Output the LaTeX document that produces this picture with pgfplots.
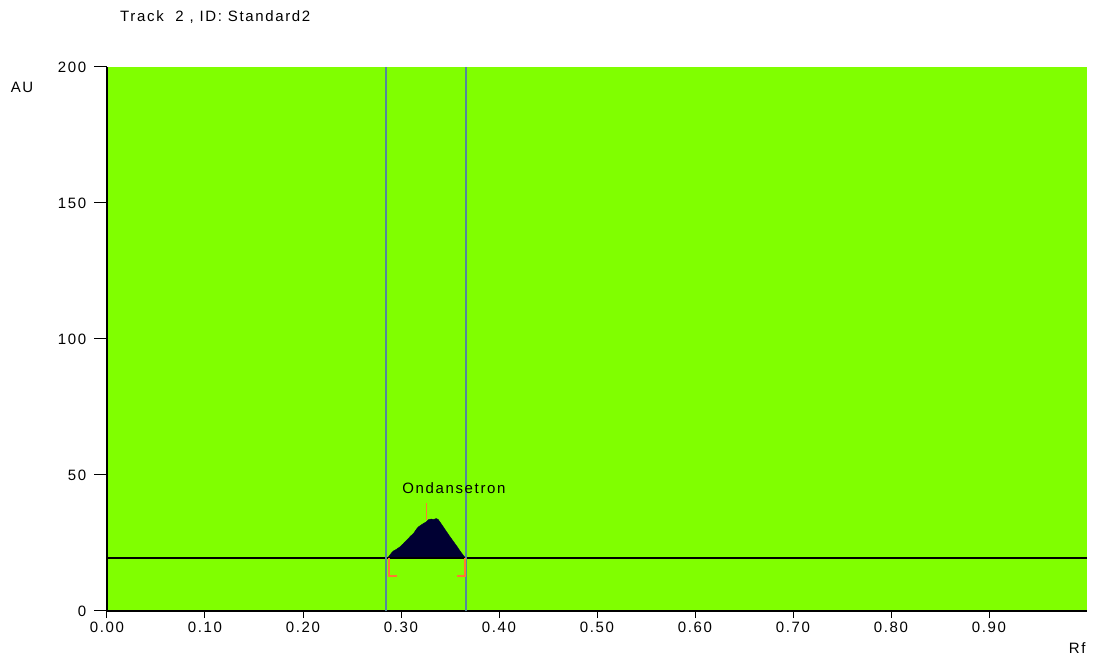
\documentclass[border=0pt]{standalone}
\usepackage{pgfplots}
\pgfplotsset{compat=1.18}
\usepackage{fontspec}
\setmainfont{Liberation Sans}[LetterSpace=11]
\definecolor{bggreen}{RGB}{128,255,0}
\definecolor{vline}{RGB}{85,135,155}
\definecolor{peakc}{RGB}{0,0,51}
\definecolor{orangemk}{RGB}{255,120,50}
\newcommand\fs{\fontsize{15}{17}\selectfont}
\begin{document}
\begin{tikzpicture}[x=1pt,y=1pt]
\useasboundingbox (-107,-48) rectangle (986,611);
\begin{axis}[
  at={(0,0)}, anchor=origin,
  scale only axis, width=980pt, height=544pt,
  xmin=0, xmax=1, ymin=0, ymax=200,
  axis lines=left, axis line style={-, black, line width=1.2pt},
  axis background/.style={fill=bggreen},
  xtick={0,0.1,0.2,0.3,0.4,0.5,0.6,0.7,0.8,0.9},
  ytick={0,50,100,150,200},
  tick align=outside,
  xtick style={black, line width=1pt, /pgfplots/major tick length=7pt},
  ytick style={black, line width=1pt, /pgfplots/major tick length=13pt},
  xticklabel style={/pgf/number format/fixed, /pgf/number format/fixed zerofill, /pgf/number format/precision=2, /pgf/number format/assume math mode=true, yshift=-3pt},
  yticklabel style={/pgf/number format/assume math mode=true, xshift=-13pt},
  ticklabel style={font=\fs},
  clip=false,
]
% peak area
\addplot[fill=peakc, draw=peakc] coordinates {
 (0.287,19.5) (0.287,19.8) (0.290,21.2) (0.292,22.0) (0.295,22.6) (0.299,23.6) (0.302,24.6) (0.306,26.1) (0.310,27.6) (0.313,28.6)
 (0.316,30.2) (0.318,31.0) (0.323,32.2) (0.326,32.8) (0.328,33.6) (0.331,33.8) (0.333,33.6) (0.336,34.0) (0.338,33.6) (0.340,32.6) (0.343,31.0)
 (0.346,29.4) (0.350,27.3) (0.353,25.8) (0.357,23.8) (0.360,22.2) (0.362,21.2) (0.365,19.8) (0.365,19.5)} -- cycle;
% baseline
\addplot[black, line width=1.2pt] coordinates {(0,19.5) (1,19.5)};
% integration limits
\addplot[vline, line width=1.5pt] coordinates {(0.2847,0) (0.2847,200)};
\addplot[vline, line width=1.5pt] coordinates {(0.3663,0) (0.3663,200)};
% orange markers
\addplot[orangemk, line width=1.6pt] coordinates {(0.326,33.5) (0.326,39.7)};
\addplot[orangemk, line width=1.6pt] coordinates {(0.288,19.5) (0.288,12.9) (0.2955,12.9)};
\addplot[orangemk, line width=2.2pt] coordinates {(0.365,19.5) (0.365,12.9) (0.357,12.9)};
\node[font=\fs, inner sep=0] at (axis cs:0.354,45.2) {Ondansetron};
\node[anchor=west, font=\fs, inner sep=0] at (axis description cs:0.0133,1.092) {Track\ \ 2 , ID: Standard2};
\node[font=\fs, inner sep=0] at (axis description cs:-0.0867,0.963) {AU};
\node[font=\fs, inner sep=0] at (axis description cs:0.99,-0.068) {Rf};
\end{axis}
\end{tikzpicture}
\end{document}
